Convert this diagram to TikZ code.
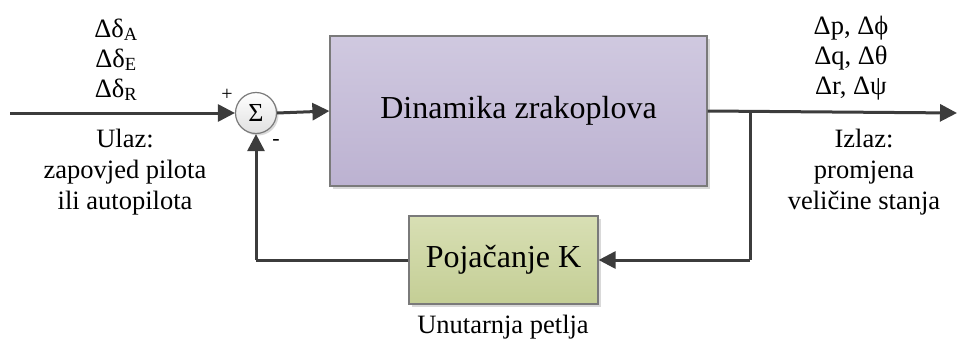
\documentclass[tikz,border=0pt]{standalone}
\usepackage{fontspec}
\setmainfont{Liberation Serif}
\usetikzlibrary{arrows.meta,shadows}
\definecolor{linec}{HTML}{3C3C3C}
\definecolor{boxborder}{HTML}{7A7A7A}
\definecolor{purtop}{HTML}{D0C9E0}
\definecolor{purbot}{HTML}{BCB2D1}
\definecolor{grntop}{HTML}{D8DFB4}
\definecolor{grnbot}{HTML}{C4CE95}
\begin{document}
\begin{tikzpicture}[x=1pt,y=-1pt,
  conn/.style={draw=linec,line width=3pt,-{Triangle[length=17pt,width=17pt]}},
  plain/.style={draw=linec,line width=3pt},
  blockbox/.style={draw=boxborder,line width=1.2pt,inner sep=0pt,
    drop shadow={shadow xshift=3pt,shadow yshift=-3pt,fill=black!15,opacity=1}},
  lbl/.style={font=\fontsize{26.5}{30}\selectfont,anchor=base,inner sep=0pt},
  big/.style={font=\fontsize{32}{36}\selectfont}
]
\useasboundingbox (0,0) rectangle (960,340);

% blocks
\node[blockbox,top color=purtop,bottom color=purbot,minimum width=377pt,minimum height=150pt,big]
  (main) at (518.5,111) {Dinamika zrakoplova};
\node[blockbox,top color=grntop,bottom color=grnbot,minimum width=189pt,minimum height=88pt,big]
  (gain) at (503.5,260) {Pojačanje K};
\node[circle,draw=boxborder,line width=1.2pt,minimum size=41pt,inner sep=0pt,
  top color=white,bottom color=black!12,
  drop shadow={shadow xshift=2pt,shadow yshift=-2pt,fill=black!15,opacity=1},
  font=\fontsize{26}{28}\selectfont] (sum) at (256,113) {Σ};

% coordinates
\coordinate (in) at (10,113);
\coordinate (out) at (957,113);
\coordinate (branch) at (750,113);
\coordinate (brdown) at (750,260);
\coordinate (fbcorner) at (256,260);

% connectors
\draw[conn] (in) -- (sum.west);
\draw[conn] (sum.east) -- (main.west);
\draw[conn] (main.east) -- (out);
\draw[plain] (branch) -- (brdown);
\draw[conn] (brdown) -- (gain.east);
\draw[plain] (gain.west) -- (fbcorner);
\draw[conn] (fbcorner) -- (sum.south);

% signs
\node[font=\fontsize{20}{20}\selectfont,inner sep=0pt] (plus) at (227,95) {+};
\node[font=\fontsize{22}{22}\selectfont,inner sep=0pt] (minus) at (276,142) {-};

% input labels
\node[lbl] (da) at (116,37) {Δδ\textsubscript{A}};
\node[lbl] (de) at (116,67) {Δδ\textsubscript{E}};
\node[lbl] (dr) at (116,97) {Δδ\textsubscript{R}};
\node[lbl] (ul1) at (125,147) {Ulaz:};
\node[lbl] (ul2) at (125,178) {zapovjed pilota};
\node[lbl] (ul3) at (125,209) {ili autopilota};

% output labels
\node[lbl] (o1) at (851,34) {Δp, Δϕ};
\node[lbl] (o2) at (851,64) {Δq, Δθ};
\node[lbl] (o3) at (851,94) {Δr, Δψ};
\node[lbl] (iz1) at (864,147) {Izlaz:};
\node[lbl] (iz2) at (864,178) {promjena};
\node[lbl] (iz3) at (864,209) {veličine stanja};

% loop label
\node[lbl] (loop) at (503,333) {Unutarnja petlja};
\end{tikzpicture}
\end{document}
